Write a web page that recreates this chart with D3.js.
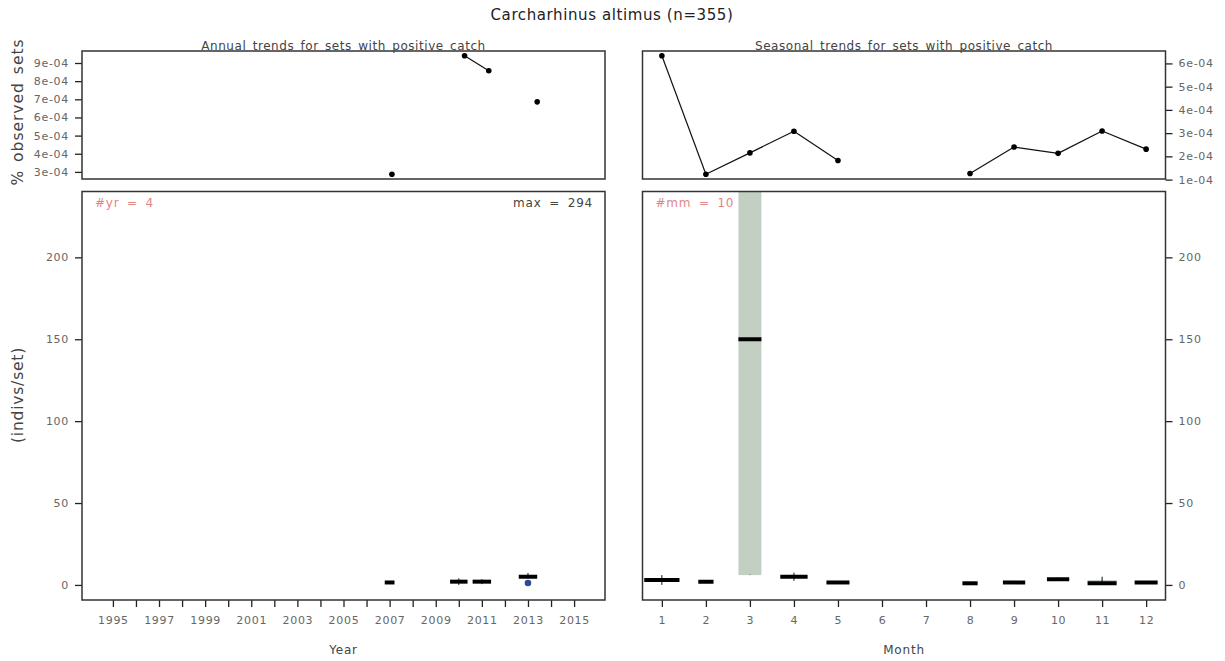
<!DOCTYPE html>
<html>
<head>
<meta charset="utf-8">
<script src="https://cdn.jsdelivr.net/npm/d3@7"></script>
<style>
  html, body { margin: 0; padding: 0; background: #fff; }
  svg { display: block; font-family: "DejaVu Sans", sans-serif; }
</style>
</head>
<body>
<svg id="chart" width="1225" height="661"></svg>
<script>
// ---------------- data ----------------
const chartTitle = "Carcharhinus altimus (n=355)";

// annual
const years      = [2007, 2010, 2011, 2013];
const yearPct    = [2.87e-4, 9.40e-4, 8.57e-4, 6.86e-4];
const yearN      = [31, 100, 112, 112];
const yearMed    = [1.5, 2, 2, 5];
const yearQ1     = [1, 1.5, 1.5, 4.5];
const yearQ3     = [2, 2.5, 2.5, 5.5];
const yearLo     = [1.5, 0, 0.5, 4];
const yearHi     = [1.5, 4, 3.5, 7.3];
const yearMarker = [null, null, null, 1.2];

// seasonal
const months     = [1, 2, 3, 4, 5, 8, 9, 10, 11, 12];
const monthPct   = [6.33e-4, 1.23e-4, 2.15e-4, 3.08e-4, 1.82e-4, 1.26e-4, 2.40e-4, 2.13e-4, 3.09e-4, 2.31e-4];
const monthN     = [75, 14, 32, 45, 32, 14, 30, 30, 51, 32];
const monthMed   = [3, 2, 150, 5, 1.5, 1, 1.5, 3.5, 1, 1.5];
const monthQ1    = [2.5, 1.5, 6, 4.5, 1, 0.7, 1, 3, 1, 1];
const monthQ3    = [3.5, 2.3, 294, 5.5, 1.8, 1.2, 1.8, 4, 3, 1.8];
const monthLo    = [0, 2, 6, 2.5, 1.5, 1, 1.5, 3, 1, 1.5];
const monthHi    = [6, 2, 6.3, 7.5, 1.5, 1, 1.5, 4.5, 5, 1.5];

// ticks
const yearTicks       = d3.range(1995, 2016);
const yearTickLabels  = ["1995","","1997","","1999","","2001","","2003","","2005","","2007","","2009","","2011","","2013","","2015"];
const monthTicks      = [1,2,3,4,5,6,7,8,9,10,11,12];
const monthTickLabels = ["1","2","3","4","5","6","7","8","9","10","11","12"];
const annualPctTicks  = [3e-4, 4e-4, 5e-4, 6e-4, 7e-4, 8e-4, 9e-4];
const seasonPctTicks  = [1e-4, 2e-4, 3e-4, 4e-4, 5e-4, 6e-4];
const indivTicks      = [0, 50, 100, 150, 200];
const maxValue = 294;

// ---------------- layout ----------------
const svg = d3.select("#chart");
const L = {x0: 82, x1: 605}, R = {x0: 642.5, x1: 1165.5};
const T = {y0: 51, y1: 179}, B = {y0: 191.5, y1: 600};
const tickCol = "#666", frameCol = "#333";
const boxFill = "#c3cfc3";

function expFmt(v) {
  const s = v.toExponential(0).split("e");
  const e = +s[1];
  return s[0] + "e" + (e < 0 ? "-" : "+") + String(Math.abs(e)).padStart(2, "0");
}
function pad4(ext) { const r = ext[1] - ext[0]; return [ext[0] - 0.04 * r, ext[1] + 0.04 * r]; }

// scales
const xTopL = d3.scaleLinear().domain(pad4([1995, 2015])).range([L.x0, L.x1]);
const xTopR = d3.scaleLinear().domain(pad4([1, 12])).range([R.x0, R.x1]);
const yTopL = d3.scaleLinear().domain(pad4(d3.extent(yearPct))).range([T.y1, T.y0]);
const yTopR = d3.scaleLinear().domain(pad4(d3.extent(monthPct))).range([T.y1, T.y0]);
const xBotL = d3.scaleLinear().domain([1993.66, 2016.34]).range([L.x0, L.x1]);
const xBotR = d3.scaleLinear().domain(pad4([1, 12])).range([R.x0, R.x1]);
const yBot  = d3.scaleLinear().domain([-9.2, 240.2]).range([B.y1, B.y0]);

// clip paths
const defs = svg.append("defs");
[["clipL", L], ["clipR", R]].forEach(([id, P]) => {
  defs.append("clipPath").attr("id", id).append("rect")
    .attr("x", P.x0).attr("y", B.y0).attr("width", P.x1 - P.x0).attr("height", B.y1 - B.y0);
});

// main title
svg.append("text").attr("x", 612).attr("y", 20).attr("text-anchor", "middle")
  .attr("font-size", 15).attr("letter-spacing", 0.6).attr("fill", "#222").text(chartTitle);

function styleAxis(g) {
  g.select(".domain").remove();
  g.selectAll(".tick line").attr("stroke", "#222").attr("stroke-width", 1.3);
  g.selectAll(".tick text").attr("fill", tickCol).attr("font-size", 11).attr("letter-spacing", 0.7)
    .attr("font-family", "DejaVu Sans, sans-serif");
}

// ---------- top panels ----------
function topPanel(P, xs, ys, xv, yv, ticks, side, subtitle) {
  const g = svg.append("g");
  const pts = xv.map((x, i) => ({x, y: yv[i]}));
  const segs = [];
  for (let i = 1; i < pts.length; i++) if (pts[i].x - pts[i - 1].x === 1) segs.push([pts[i - 1], pts[i]]);
  const line = d3.line().x(d => xs(d.x)).y(d => ys(d.y));
  g.selectAll("path.seg").data(segs).join("path").attr("class", "seg")
    .attr("d", line).attr("fill", "none").attr("stroke", "#111").attr("stroke-width", 1.2);
  g.selectAll("circle").data(pts).join("circle")
    .attr("cx", d => xs(d.x)).attr("cy", d => ys(d.y)).attr("r", 2.8).attr("fill", "#000");
  const ax = side === "left"
    ? d3.axisLeft(ys).tickValues(ticks).tickFormat(expFmt).tickSize(7).tickPadding(6)
    : d3.axisRight(ys).tickValues(ticks).tickFormat(expFmt).tickSize(7).tickPadding(6);
  svg.append("g").attr("transform", `translate(${side === "left" ? P.x0 : P.x1},0)`).call(ax).call(styleAxis);
  svg.append("rect").attr("x", P.x0).attr("y", T.y0).attr("width", P.x1 - P.x0).attr("height", T.y1 - T.y0)
    .attr("fill", "none").attr("stroke", frameCol).attr("stroke-width", 1.5);
  svg.append("text").attr("x", (P.x0 + P.x1) / 2).attr("y", T.y0 - 1.5).attr("text-anchor", "middle")
    .attr("font-size", 12).attr("letter-spacing", 0.55).attr("word-spacing", 2).attr("fill", "#444").text(subtitle);
}
topPanel(L, xTopL, yTopL, years, yearPct, annualPctTicks, "left", "Annual trends for sets with positive catch");
topPanel(R, xTopR, yTopR, months, monthPct, seasonPctTicks, "right", "Seasonal trends for sets with positive catch");

// ---------- bottom panels ----------
function botPanel(P, xs, xv, n, q1, med, q3, lo, hi, marker, clip, xTicks, xLabels, side, xTitle, countLabel) {
  const g = svg.append("g").attr("clip-path", `url(#${clip})`);
  const nMax = d3.max(n);
  const data = xv.map((x, i) => ({x, n: n[i], q1: q1[i], med: med[i], q3: q3[i], lo: lo[i], hi: hi[i], m: marker ? marker[i] : null}));
  const half = d => (xs(d.x + 0.4 * Math.sqrt(d.n / nMax)) - xs(d.x));
  g.selectAll("rect.box").data(data).join("rect").attr("class", "box")
    .attr("x", d => xs(d.x) - half(d)).attr("width", d => 2 * half(d))
    .attr("y", d => yBot(d.q3)).attr("height", d => Math.max(0, yBot(d.q1) - yBot(d.q3)))
    .attr("fill", boxFill);
  g.selectAll("line.wh").data(data).join("line").attr("class", "wh")
    .attr("x1", d => xs(d.x)).attr("x2", d => xs(d.x))
    .attr("y1", d => yBot(d.lo)).attr("y2", d => yBot(d.hi) - 0.01)
    .attr("stroke", "#111").attr("stroke-width", 1);
  g.selectAll("line.med").data(data).join("line").attr("class", "med")
    .attr("x1", d => xs(d.x) - half(d)).attr("x2", d => xs(d.x) + half(d))
    .attr("y1", d => yBot(d.med)).attr("y2", d => yBot(d.med))
    .attr("stroke", "#000").attr("stroke-width", 4);
  g.selectAll("circle.mk").data(data.filter(d => d.m != null)).join("circle").attr("class", "mk")
    .attr("cx", d => xs(d.x)).attr("cy", d => yBot(d.m)).attr("r", 3.3).attr("fill", "#2f4a9a");

  const xa = d3.axisBottom(xs).tickValues(xTicks).tickFormat((d, i) => xLabels[i]).tickSize(7).tickPadding(9);
  svg.append("g").attr("transform", `translate(0,${B.y1})`).call(xa).call(styleAxis);
  const ya = side === "left"
    ? d3.axisLeft(yBot).tickValues(indivTicks).tickSize(7).tickPadding(6)
    : d3.axisRight(yBot).tickValues(indivTicks).tickSize(7).tickPadding(6);
  svg.append("g").attr("transform", `translate(${side === "left" ? P.x0 : P.x1},0)`).call(ya).call(styleAxis);
  svg.append("rect").attr("x", P.x0).attr("y", B.y0).attr("width", P.x1 - P.x0).attr("height", B.y1 - B.y0)
    .attr("fill", "none").attr("stroke", frameCol).attr("stroke-width", 1.5);
  svg.append("text").attr("x", (P.x0 + P.x1) / 2).attr("y", 654).attr("text-anchor", "middle")
    .attr("font-size", 12).attr("letter-spacing", 0.8).attr("fill", "#444").text(xTitle);
  svg.append("text").attr("x", P.x0 + 13).attr("y", 207).attr("font-size", 12)
    .attr("letter-spacing", 0.8).attr("word-spacing", 3).attr("fill", "#e08585").text(countLabel);
}
botPanel(L, xBotL, years, yearN, yearQ1, yearMed, yearQ3, yearLo, yearHi, yearMarker, "clipL",
  yearTicks, yearTickLabels, "left", "Year", "#yr = " + years.length);
botPanel(R, xBotR, months, monthN, monthQ1, monthMed, monthQ3, monthLo, monthHi, null, "clipR",
  monthTicks, monthTickLabels, "right", "Month", "#mm = " + months.length);

svg.append("text").attr("x", L.x1 - 12).attr("y", 207).attr("text-anchor", "end")
  .attr("font-size", 12).attr("letter-spacing", 0.8).attr("word-spacing", 3).attr("fill", "#444")
  .text("max = " + maxValue);

// y titles
svg.append("text").attr("transform", "translate(23,112) rotate(-90)").attr("text-anchor", "middle")
  .attr("font-size", 15.5).attr("letter-spacing", 1).attr("word-spacing", 2).attr("fill", "#444").text("% observed sets");
svg.append("text").attr("transform", "translate(23,395) rotate(-90)").attr("text-anchor", "middle")
  .attr("font-size", 15.5).attr("letter-spacing", 0.8).attr("fill", "#444").text("(indivs/set)");
</script>
</body>
</html>
